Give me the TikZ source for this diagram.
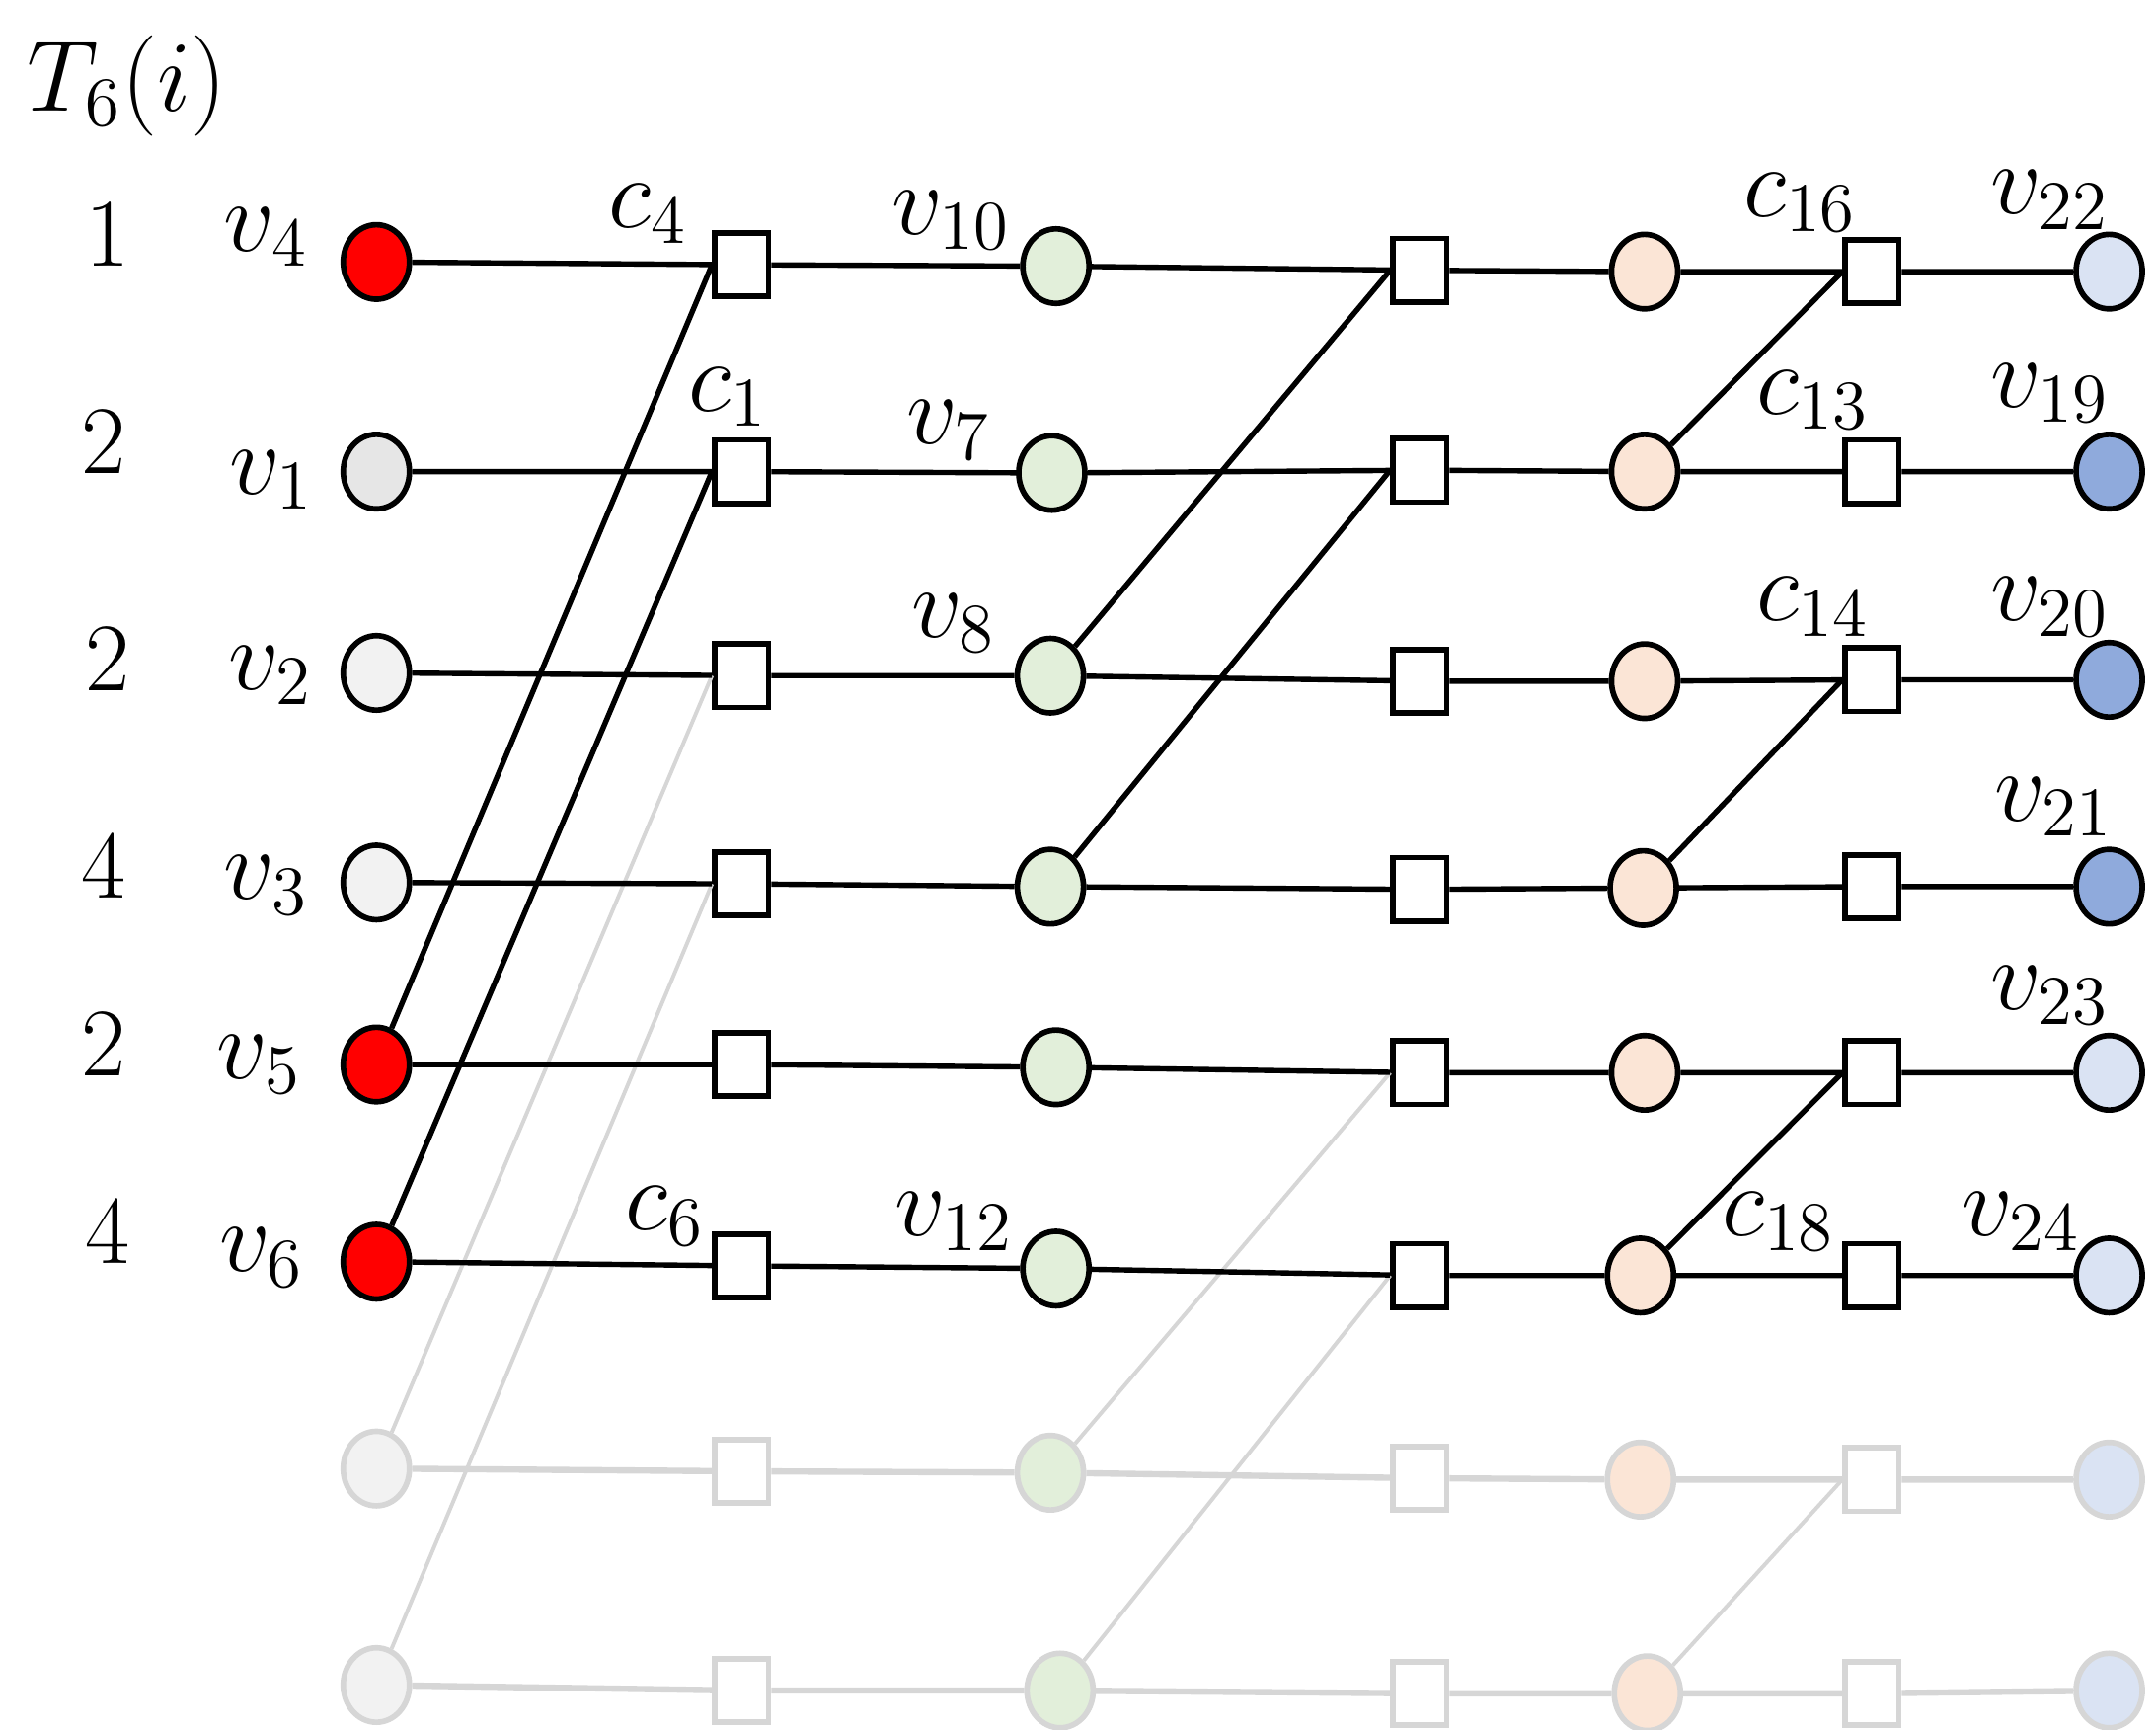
\documentclass[tikz,border=0pt]{standalone}
\usetikzlibrary{shapes.geometric}
\DeclareMathSizes{20}{20}{15}{11}
\definecolor{cRed}{HTML}{FF0000}
\definecolor{cGrayA}{HTML}{E6E6E6}
\definecolor{cGrayB}{HTML}{F2F2F2}
\definecolor{cGreen}{HTML}{E2EFDA}
\definecolor{cPeach}{HTML}{FBE5D6}
\definecolor{cLblue}{HTML}{DAE3F3}
\definecolor{cBlue}{HTML}{8FAADC}
\definecolor{cFade}{HTML}{D6D6D6}
\begin{document}
\begin{tikzpicture}[x=0.01cm,y=-0.01cm,
  vn/.style={ellipse, draw=black, line width=1.15pt, minimum width=0.48cm, minimum height=0.54cm, inner sep=0pt},
  cn/.style={rectangle, draw=black, line width=1.15pt, fill=white, minimum width=0.39cm, minimum height=0.46cm, inner sep=0pt},
  fv/.style={vn, draw=cFade},
  fc/.style={cn, draw=cFade},
  lab/.style={font=\fontsize{20}{24}\selectfont, inner sep=0pt},
  edge/.style={line width=1.1pt, black},
  fedge/.style={line width=1.3pt, cFade},
  fdiag/.style={line width=0.8pt, cFade}]
\useasboundingbox (0,0) rectangle (1564,1254);
% row 1
\node[vn, fill=cRed]   (n11) at (273,190) {};
\node[cn]              (n12) at (538,192) {};
\node[vn, fill=cGreen] (n13) at (766,193) {};
\node[cn]              (n14) at (1030,196) {};
\node[vn, fill=cPeach] (n15) at (1193,197) {};
\node[cn]              (n16) at (1358,197) {};
\node[vn, fill=cLblue] (n17) at (1530,197) {};
% row 2
\node[vn, fill=cGrayA] (n21) at (273,342) {};
\node[cn]              (n22) at (538,342) {};
\node[vn, fill=cGreen] (n23) at (763,343) {};
\node[cn]              (n24) at (1030,341) {};
\node[vn, fill=cPeach] (n25) at (1193,342) {};
\node[cn]              (n26) at (1358,342) {};
\node[vn, fill=cBlue]  (n27) at (1530,342) {};
% row 3
\node[vn, fill=cGrayB] (n31) at (273,488) {};
\node[cn]              (n32) at (538,490) {};
\node[vn, fill=cGreen] (n33) at (762,490) {};
\node[cn]              (n34) at (1030,494) {};
\node[vn, fill=cPeach] (n35) at (1193,494) {};
\node[cn]              (n36) at (1358,493) {};
\node[vn, fill=cBlue]  (n37) at (1530,493) {};
% row 4
\node[vn, fill=cGrayB] (n41) at (273,640) {};
\node[cn]              (n42) at (538,641) {};
\node[vn, fill=cGreen] (n43) at (762,643) {};
\node[cn]              (n44) at (1030,645) {};
\node[vn, fill=cPeach] (n45) at (1192,644) {};
\node[cn]              (n46) at (1358,643) {};
\node[vn, fill=cBlue]  (n47) at (1530,643) {};
% row 5
\node[vn, fill=cRed]   (n51) at (273,772) {};
\node[cn]              (n52) at (538,772) {};
\node[vn, fill=cGreen] (n53) at (766,774) {};
\node[cn]              (n54) at (1030,778) {};
\node[vn, fill=cPeach] (n55) at (1193,778) {};
\node[cn]              (n56) at (1358,778) {};
\node[vn, fill=cLblue] (n57) at (1530,778) {};
% row 6
\node[vn, fill=cRed]   (n61) at (273,915) {};
\node[cn]              (n62) at (538,918) {};
\node[vn, fill=cGreen] (n63) at (766,920) {};
\node[cn]              (n64) at (1030,925) {};
\node[vn, fill=cPeach] (n65) at (1190,925) {};
\node[cn]              (n66) at (1358,925) {};
\node[vn, fill=cLblue] (n67) at (1530,925) {};
% row 7 (faded)
\node[fv, fill=cGrayB] (n71) at (273,1065) {};
\node[fc]              (n72) at (538,1067) {};
\node[fv, fill=cGreen] (n73) at (762,1068) {};
\node[fc]              (n74) at (1030,1072) {};
\node[fv, fill=cPeach] (n75) at (1190,1073) {};
\node[fc]              (n76) at (1358,1073) {};
\node[fv, fill=cLblue] (n77) at (1530,1073) {};
% row 8 (faded)
\node[fv, fill=cGrayB] (n81) at (273,1222) {};
\node[fc]              (n82) at (538,1226) {};
\node[fv, fill=cGreen] (n83) at (769,1226) {};
\node[fc]              (n84) at (1030,1228) {};
\node[fv, fill=cPeach] (n85) at (1195,1228) {};
\node[fc]              (n86) at (1358,1228) {};
\node[fv, fill=cLblue] (n87) at (1530,1226) {};
% faded edges
\foreach \r in {7,8}{
  \draw[fedge] (n\r1) -- (n\r2) -- (n\r3) -- (n\r4) -- (n\r5) -- (n\r6) -- (n\r7);
}
\draw[fdiag] (n71) -- (n32.west);
\draw[fdiag] (n81) -- (n42.west);
\draw[fdiag] (n73) -- (n54.west);
\draw[fdiag] (n83) -- (n64.west);
\draw[fdiag] (n85) -- (n76.west);
% black edges
\foreach \r in {1,...,6}{
  \draw[edge] (n\r1) -- (n\r2) -- (n\r3) -- (n\r4) -- (n\r5) -- (n\r6) -- (n\r7);
}
\draw[edge] (n51) -- (n12.west);
\draw[edge] (n61) -- (n22.west);
\draw[edge] (n33) -- (n14.west);
\draw[edge] (n43) -- (n24.west);
\draw[edge] (n25) -- (n16.west);
\draw[edge] (n45) -- (n36.west);
\draw[edge] (n65) -- (n56.west);
% labels
\node[lab] (tlab) at (92,62) {$T_6(i)$};
\node[lab] (k1) at (78,170) {1};
\node[lab] (k2) at (75,320) {2};
\node[lab] (k3) at (78,478) {2};
\node[lab] (k4) at (75,628) {4};
\node[lab] (k5) at (75,757) {2};
\node[lab] (k6) at (78,893) {4};
\node[lab] (lv4) at (193,172) {$v_4$};
\node[lab] (lv1) at (197,348) {$v_1$};
\node[lab] (lv2) at (196,490) {$v_2$};
\node[lab] (lv3) at (193,642) {$v_3$};
\node[lab] (lv5) at (188,772) {$v_5$};
\node[lab] (lv6) at (190,912) {$v_6$};
\node[lab] (lc4) at (470,155) {$c_4$};
\node[lab] (lc1) at (528,288) {$c_1$};
\node[lab] (lc6) at (482,882) {$c_6$};
\node[lab] (lv10) at (690,160) {$v_{10}$};
\node[lab] (lv7) at (688,312) {$v_7$};
\node[lab] (lv8) at (692,452) {$v_8$};
\node[lab] (lv12) at (692,886) {$v_{12}$};
\node[lab] (lc16) at (1306,147) {$c_{16}$};
\node[lab] (lc13) at (1315,290) {$c_{13}$};
\node[lab] (lc14) at (1315,440) {$c_{14}$};
\node[lab] (lc18) at (1290,886) {$c_{18}$};
\node[lab] (lv22) at (1487,145) {$v_{22}$};
\node[lab] (lv19) at (1487,285) {$v_{19}$};
\node[lab] (lv20) at (1487,440) {$v_{20}$};
\node[lab] (lv21) at (1490,585) {$v_{21}$};
\node[lab] (lv23) at (1487,722) {$v_{23}$};
\node[lab] (lv24) at (1466,886) {$v_{24}$};
\end{tikzpicture}
\end{document}
